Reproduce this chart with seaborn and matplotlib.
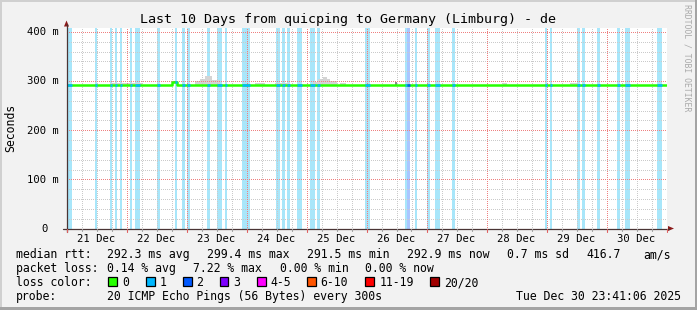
import numpy as np
import pandas as pd
import matplotlib
matplotlib.use("Agg")
import matplotlib.pyplot as plt
import seaborn as sns
from matplotlib.patches import Rectangle, Polygon
from matplotlib.lines import Line2D

# ---------------- data ----------------
day_labels = ["21 Dec", "22 Dec", "23 Dec", "24 Dec", "25 Dec",
              "26 Dec", "27 Dec", "28 Dec", "29 Dec", "30 Dec"]
y_tick_values = [0, 100, 200, 300, 400]
y_tick_labels = ["0", "100 m", "200 m", "300 m", "400 m"]

# median rtt (ms), one value per 2-hour bin, 12 bins per day
median_ms = [
    292.8, 292.8, 292.8, 292.8, 292.8, 292.8, 292.8, 292.8, 292.8, 292.8, 292.8, 292.8,
    292.8, 292.8, 292.8, 292.8, 292.8, 292.8, 292.8, 292.8, 292.8, 299.0, 292.8, 292.8,
    292.8, 292.8, 292.8, 291.6, 292.8, 291.6, 291.6, 292.8, 291.6, 291.6, 291.6, 292.8,
    292.8, 292.8, 292.8, 292.8, 292.8, 292.8, 292.8, 292.8, 292.8, 291.6, 292.8, 291.6,
    291.6, 291.6, 292.8, 292.8, 292.8, 291.6, 291.6, 292.8, 291.6, 292.8, 291.6, 291.6,
    292.8, 292.8, 292.8, 291.6, 291.6, 292.8, 291.6, 292.8, 291.6, 292.8, 292.8, 291.6,
    292.8, 292.8, 292.8, 292.8, 291.6, 291.6, 291.6, 291.6, 291.6, 291.6, 291.6, 291.6,
    291.6, 291.6, 291.6, 291.6, 292.8, 291.6, 292.8, 292.8, 291.6, 292.8, 291.6, 292.8,
    292.8, 292.8, 292.8, 291.6, 292.8, 292.8, 291.6, 292.8, 291.6, 291.6, 292.8, 292.8,
    291.6, 292.8, 292.8, 292.8, 292.8, 292.8, 292.8, 292.8, 292.8, 292.8, 292.8, 292.8,
]

# packet-loss intervals (days since 21 Dec 00:00) and lost pings out of 20
loss_start = [0.01, 0.475, 0.725, 0.81, 0.89, 1.06, 1.14, 1.51, 1.81, 1.925, 2.01,
              2.34, 2.51, 2.64, 2.925, 3.49, 3.59, 3.675, 3.84, 4.06, 4.175, 4.975,
              5.64, 5.675, 5.81, 6.01, 6.14, 6.425, 7.975, 8.06, 8.51, 8.59, 8.84,
              9.175, 9.31, 9.84]
loss_end = [0.09, 0.51, 0.76, 0.84, 0.93, 1.09, 1.225, 1.56, 1.84, 1.975, 2.06,
            2.39, 2.59, 2.675, 3.06, 3.56, 3.64, 3.725, 3.925, 4.14, 4.225, 5.06,
            5.675, 5.725, 5.84, 6.06, 6.225, 6.475, 8.01, 8.09, 8.56, 8.64, 8.89,
            9.225, 9.39, 9.925]
loss_count = [1, 1, 1, 1, 1, 1, 1, 1, 1, 1, 1,
              1, 1, 1, 1, 1, 1, 1, 1, 1, 1, 1,
              1, 2, 1, 1, 1, 1, 1, 1, 1, 1, 1,
              1, 1, 1]

# smoke (spread of individual pings above the median)
smoke_start = [0.72, 1.75, 2.14, 2.225, 2.31, 2.425, 3.14, 3.48, 4.11, 4.19, 4.275,
               4.34, 4.39, 4.56, 5.47, 7.27, 8.39]
smoke_end = [1.25, 1.82, 2.225, 2.31, 2.425, 2.56, 3.30, 3.70, 4.19, 4.275, 4.34,
             4.39, 4.51, 4.66, 5.51, 7.34, 8.51]
smoke_top = [297, 300, 300, 305, 311, 303, 296.5, 296, 299, 304, 309,
             304, 300, 297, 298, 296, 296]
smoke_dark = [0, 1, 0, 0, 0, 0, 0, 0, 0, 0, 0,
              0, 0, 0, 1, 0, 0]

legend_loss_labels = ["0", "1", "2", "3", "4-5", "6-10", "11-19", "20/20"]
legend_loss_colors = ["#26ff00", "#00b8ff", "#0059ff", "#7e00ff",
                      "#ff00fe", "#ff5500", "#ff0000", "#a10000"]

# ---------------- style ----------------
W, H = 697, 310
BG = "#f2f2f2"
MONO = ["DejaVu Sans Mono"]
loss_line = {0: "#26ff00", 1: "#00b8ff", 2: "#0059ff"}
loss_bg = {1: "#a8e6fa", 2: "#aac6ff"}

sns.set_theme(style="white")
plt.rcParams["font.family"] = MONO


def fx(x):
    return x / W


def fy(y):
    return 1 - y / H


fig = plt.figure(figsize=(W / 100, H / 100), dpi=100, facecolor=BG)

# frame shading
fig.add_artist(Rectangle((0, fy(2)), 1, 2 / H, transform=fig.transFigure, color="#d0d0d0", lw=0))
fig.add_artist(Rectangle((0, 0), 2 / W, 1, transform=fig.transFigure, color="#d0d0d0", lw=0))
fig.add_artist(Rectangle((0, 0), 1, 3 / H, transform=fig.transFigure, color="#a4a4a4", lw=0))
fig.add_artist(Rectangle((fx(W - 2), 0), 2 / W, 1, transform=fig.transFigure, color="#a4a4a4", lw=0))

X0, X1 = 66.5, 666.5
Y0, Y1 = 228.5, 28.0
YMAX = 408
ax = fig.add_axes([fx(X0), fy(Y0), (X1 - X0) / W, (Y0 - Y1) / H])
ax.set_facecolor("white")
ax.set_xlim(0, 10)
ax.set_ylim(0, YMAX)
for s in ax.spines.values():
    s.set_visible(False)
ax.set_xticks([])
ax.set_yticks([])

# loss background bars
ax.bar(loss_start, YMAX, width=np.array(loss_end) - np.array(loss_start), bottom=0,
       align="edge", color=[loss_bg[c] for c in loss_count], lw=0, zorder=1)


def med_at(t):
    i = min(int(t * 12), len(median_ms) - 1)
    return median_ms[i]


# smoke
sb = np.array([min(med_at(s), med_at(e - 1e-6)) for s, e in zip(smoke_start, smoke_end)])
ax.bar(smoke_start, np.array(smoke_top) - sb, width=np.array(smoke_end) - np.array(smoke_start),
       bottom=sb, align="edge",
       color=["#8a8a8a" if d else "#d4d4d4" for d in smoke_dark], lw=0, zorder=2)

# grid (on top of bars), 1px dotted aligned to pixel grid
GMIN = "#cacaca"
GMAJ = "#ee8080"
DOT = (0.5, (1, 1))
minor_x = [d / 4 for d in range(1, 40) if d % 4 != 0]
ax.vlines(minor_x, 0, YMAX, colors=GMIN, linestyles=[DOT], lw=0.72, zorder=3)
minor_y = [v for v in range(20, 401, 20) if v % 100 != 0]
ax.hlines(minor_y, 0, 10, colors=GMIN, linestyles=[DOT], lw=0.72, zorder=3)
ax.vlines(range(1, 10), 0, YMAX, colors=GMAJ, linestyles=[DOT], lw=0.72, zorder=3)
ax.hlines([100, 200, 300, 400], 0, 10, colors=GMAJ, linestyles=[DOT], lw=0.72, zorder=3)

# median line
t = [i / 12 for i in range(len(median_ms))] + [10]
df = pd.DataFrame({"t": t, "ms": median_ms + [median_ms[-1]]})
sns.lineplot(data=df, x="t", y="ms", drawstyle="steps-post", color=loss_line[0],
             lw=1.8, estimator=None, ax=ax, zorder=4)
for s, e, c in zip(loss_start, loss_end, loss_count):
    v = med_at((s + e) / 2)
    ax.hlines(v, s, e, colors=loss_line[c], lw=1.8, zorder=5)
ax.set_xlabel("")
ax.set_ylabel("")
ax.set_xlim(0, 10)
ax.set_ylim(0, YMAX)

# axes lines + arrows
AXC = "#4a3434"
ARC = "#8b1a1a"
fig.add_artist(Line2D([fx(63), fx(669)], [fy(Y0), fy(Y0)], color=AXC, lw=0.9))
fig.add_artist(Line2D([fx(X0), fx(X0)], [fy(Y0 + 3), fy(24)], color=AXC, lw=0.9))
fig.add_artist(Polygon([[fx(668), fy(226)], [fx(674), fy(Y0)], [fx(668), fy(231)]],
                       closed=True, transform=fig.transFigure, color=ARC, lw=0))
fig.add_artist(Polygon([[fx(64), fy(26.5)], [fx(X0), fy(20.5)], [fx(69), fy(26.5)]],
                       closed=True, transform=fig.transFigure, color=ARC, lw=0))
# small ticks below axis
for d in range(0, 41):
    xp = X0 + d * 15
    if d % 4 == 0:
        fig.add_artist(Line2D([fx(xp), fx(xp)], [fy(Y0), fy(Y0 + 3)], color="#e06060", lw=0.8))
    else:
        fig.add_artist(Line2D([fx(xp), fx(xp)], [fy(Y0), fy(Y0 + 2)], color="#a0a0a0", lw=0.8))

# x labels
for i, lab in enumerate(day_labels):
    fig.text(fx(X0 + 60 * i + 30), fy(241.5), lab, ha="center", va="baseline",
             fontsize=7.6, family=MONO, color="black")
# y labels
for v, lab in zip(y_tick_values, y_tick_labels):
    yp = Y0 - v * (Y0 - Y1) / YMAX
    xr = 59 if v else 48
    fig.text(fx(xr), fy(yp + 3.4), lab, ha="right", va="baseline",
             fontsize=7.6, family=MONO, color="black")

# title, axis label, watermark
fig.text(fx(348), fy(23), "Last 10 Days from quicping to Germany (Limburg) - de",
         ha="center", va="baseline", fontsize=9.6, family=MONO, color="black")
fig.text(fx(11), fy(128), "Seconds", rotation=90, ha="center", va="center",
         fontsize=8.3, family=MONO, color="black")
fig.text(fx(687.5), fy(4), "RRDTOOL / TOBI OETIKER", rotation=270, ha="center", va="top",
         fontsize=5.9, family=MONO, color="#aaaaaa")

# legend
LFS = 8.3


def lt(x, y, s, ha="left"):
    fig.text(fx(x), fy(y), s, ha=ha, va="baseline", fontsize=LFS, family=MONO, color="black")


r1 = 258.3
lt(16, r1, "median rtt:")
for x, s in zip([107, 207, 307, 407, 507, 586, 643],
                ["292.3 ms avg", "299.4 ms max", "291.5 ms min", "292.9 ms now",
                 "0.7 ms sd", "416.7", "am/s"]):
    lt(x, r1, s)
r2 = 272.3
lt(16, r2, "packet loss:")
for x, s in zip([107, 193, 280, 365],
                ["0.14 % avg", "7.22 % max", "0.00 % min", "0.00 % now"]):
    lt(x, r2, s)
r3 = 286.3
lt(16, r3, "loss color:")
box_x = [108, 146, 183, 220, 257, 307, 365, 430]
lab_x = [122.5, 159.5, 196.5, 233.5, 270.5, 320.5, 379.5, 444.5]
for bx, lx, lab, col in zip(box_x, lab_x, legend_loss_labels, legend_loss_colors):
    fig.add_artist(Rectangle((fx(bx), fy(286)), 8.5 / W, 9 / H, transform=fig.transFigure,
                             facecolor=col, edgecolor="black", lw=0.9))
    lt(lx, r3, lab)
r4 = 300.3
lt(16, r4, "probe:")
lt(107, r4, "20 ICMP Echo Pings (56 Bytes) every 300s")
lt(681, r4, "Tue Dec 30 23:41:06 2025", ha="right")

fig.savefig("out.png", dpi=100, facecolor=BG)
